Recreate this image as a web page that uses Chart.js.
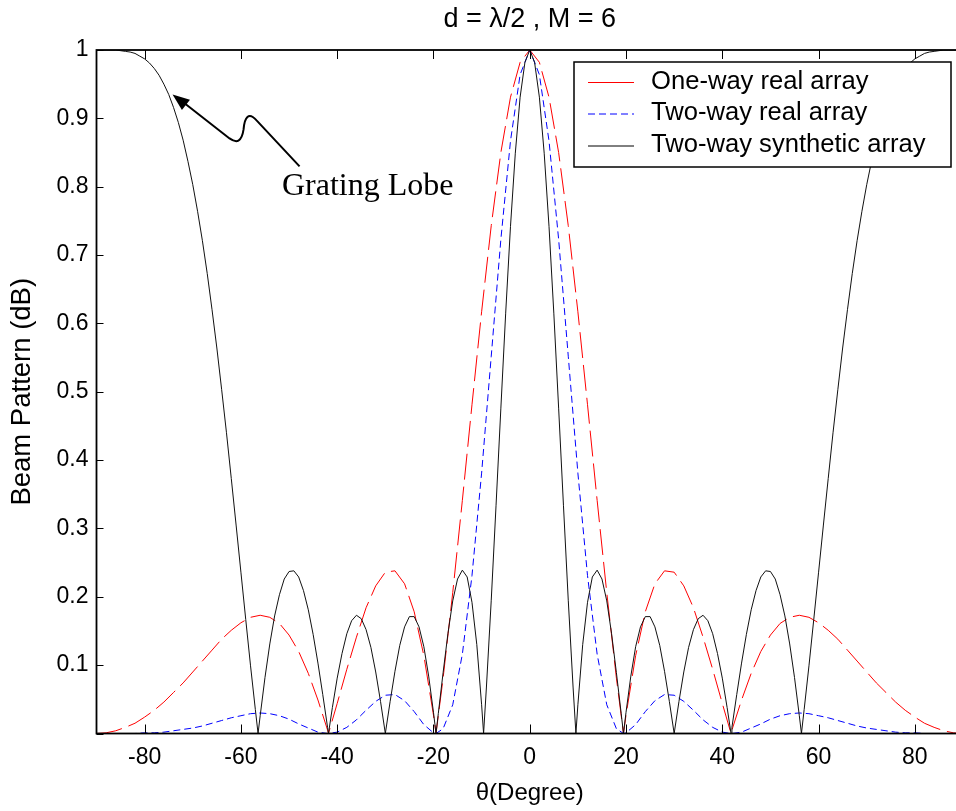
<!DOCTYPE html>
<html>
<head>
<meta charset="utf-8">
<script src="https://cdn.jsdelivr.net/npm/chart.js@4.4.0/dist/chart.umd.min.js"></script>
<style>
  html, body { margin: 0; padding: 0; background: #fff; overflow: hidden; }
</style>
</head>
<body>
<canvas id="beamChart" width="963" height="811"></canvas>
<script>
// angles (deg) for the synthetic array curve, nulls included
const blackTheta = [
  -90, -89, -88, -87, -86, -85, -84, -83, -82, -81, -80, -79, -78, -77, -76, -75, -74, -73, -72, -71,
  -70, -69, -68, -67, -66, -65, -64, -63, -62, -61, -60, -59, -58, -57, -56.44,
  -56, -55, -54, -53, -52, -51, -50, -49, -48, -47, -46, -45, -44, -43, -42, -41.81,
  -41, -40, -39, -38, -37, -36, -35, -34, -33, -32, -31, -30, -29, -28, -27, -26, -25, -24, -23, -22, -21, -20, -19.47,
  -19, -18, -17, -16, -15, -14, -13, -12, -11, -10, -9.59,
  -9, -8, -7, -6, -5, -4, -3, -2, -1, 0,
  1, 2, 3, 4, 5, 6, 7, 8, 9, 9.59,
  10, 11, 12, 13, 14, 15, 16, 17, 18, 19, 19.47,
  20, 21, 22, 23, 24, 25, 26, 27, 28, 29, 30, 31, 32, 33, 34, 35, 36, 37, 38, 39, 40, 41, 41.81,
  42, 43, 44, 45, 46, 47, 48, 49, 50, 51, 52, 53, 54, 55, 56, 56.44,
  57, 58, 59, 60, 61, 62, 63, 64, 65, 66, 67, 68, 69, 70, 71, 72, 73, 74, 75, 76, 77, 78, 79, 80,
  81, 82, 83, 84, 85, 86, 87, 88, 89, 90
];
const syntheticTwoWay = [
  1, 1, 1, 1, 1, 0.999, 0.998, 0.997, 0.995, 0.991, 0.987, 0.981, 0.973, 0.963, 0.950, 0.935, 0.916, 0.894, 0.868, 0.837,
  0.803, 0.764, 0.721, 0.673, 0.620, 0.564, 0.503, 0.440, 0.373, 0.305, 0.236, 0.167, 0.099, 0.035, 0,
  0.026, 0.082, 0.131, 0.172, 0.203, 0.226, 0.237, 0.238, 0.229, 0.209, 0.181, 0.145, 0.103, 0.057, 0.009, 0,
  0.038, 0.081, 0.117, 0.146, 0.165, 0.173, 0.168, 0.152, 0.126, 0.090, 0.047, 0, 0.047, 0.091, 0.129, 0.156, 0.171, 0.171, 0.156, 0.127, 0.084, 0.031, 0,
  0.029, 0.089, 0.146, 0.194, 0.226, 0.239, 0.229, 0.192, 0.130, 0.042, 0,
  0.068, 0.195, 0.334, 0.476, 0.615, 0.742, 0.849, 0.931, 0.982, 1,
  0.982, 0.931, 0.849, 0.742, 0.615, 0.476, 0.334, 0.195, 0.068, 0,
  0.042, 0.130, 0.192, 0.229, 0.239, 0.226, 0.194, 0.146, 0.089, 0.029, 0,
  0.031, 0.084, 0.127, 0.156, 0.171, 0.171, 0.156, 0.129, 0.091, 0.047, 0, 0.047, 0.090, 0.126, 0.152, 0.168, 0.173, 0.165, 0.146, 0.117, 0.081, 0.038, 0,
  0.009, 0.057, 0.103, 0.145, 0.181, 0.209, 0.229, 0.238, 0.237, 0.226, 0.203, 0.172, 0.131, 0.082, 0.026, 0,
  0.035, 0.099, 0.167, 0.236, 0.305, 0.373, 0.440, 0.503, 0.564, 0.620, 0.673, 0.721, 0.764, 0.803, 0.837, 0.868, 0.894, 0.916, 0.935, 0.950, 0.963, 0.973, 0.981, 0.987,
  0.991, 0.995, 0.997, 0.998, 0.999, 1, 1, 1, 1, 1
];

// angles (deg) for the real array curves
const realTheta = [
  -90, -88, -86, -84, -82, -80, -78, -76, -74, -72, -70, -68, -66, -64, -62, -60, -58, -56, -54, -52, -50, -48, -46, -44, -42, -41.81,
  -40, -38, -36, -34, -32, -30, -28, -26, -24, -22, -20, -19.47,
  -18, -16, -14, -12, -10, -8, -6, -4, -2, 0,
  2, 4, 6, 8, 10, 12, 14, 16, 18, 19.47,
  20, 22, 24, 26, 28, 30, 32, 34, 36, 38, 40, 41.81,
  42, 44, 46, 48, 50, 52, 54, 56, 58, 60, 62, 64, 66, 68, 70, 72, 74, 76, 78, 80, 82, 84, 86, 88, 90
];
const realOneWay = [
  0, 0.001, 0.004, 0.009, 0.015, 0.024, 0.034, 0.046, 0.060, 0.074, 0.090, 0.106, 0.122, 0.138, 0.151, 0.162, 0.170, 0.173, 0.170, 0.161, 0.144, 0.120, 0.088, 0.049, 0.005, 0,
  0.044, 0.094, 0.141, 0.184, 0.216, 0.236, 0.238, 0.219, 0.178, 0.114, 0.027, 0,
  0.081, 0.206, 0.341, 0.481, 0.617, 0.743, 0.850, 0.931, 0.982, 1,
  0.982, 0.931, 0.850, 0.743, 0.617, 0.481, 0.341, 0.206, 0.081, 0,
  0.027, 0.114, 0.178, 0.219, 0.238, 0.236, 0.216, 0.184, 0.141, 0.094, 0.044, 0,
  0.005, 0.049, 0.088, 0.120, 0.144, 0.161, 0.170, 0.173, 0.170, 0.162, 0.151, 0.138, 0.122, 0.106, 0.090, 0.074, 0.060, 0.046, 0.034, 0.024, 0.015, 0.009, 0.004, 0.001, 0
];
const realTwoWay = [
  0, 0, 0, 0, 0, 0.001, 0.001, 0.002, 0.004, 0.006, 0.008, 0.011, 0.015, 0.019, 0.023, 0.026, 0.029, 0.030, 0.029, 0.026, 0.021, 0.014, 0.008, 0.002, 0, 0,
  0.002, 0.009, 0.020, 0.034, 0.047, 0.056, 0.057, 0.048, 0.032, 0.013, 0.001, 0,
  0.007, 0.042, 0.116, 0.231, 0.381, 0.552, 0.723, 0.867, 0.964, 1,
  0.964, 0.867, 0.723, 0.552, 0.381, 0.231, 0.116, 0.042, 0.007, 0,
  0.001, 0.013, 0.032, 0.048, 0.057, 0.056, 0.047, 0.034, 0.020, 0.009, 0.002, 0,
  0, 0.002, 0.008, 0.014, 0.021, 0.026, 0.029, 0.030, 0.029, 0.026, 0.023, 0.019, 0.015, 0.011, 0.008, 0.006, 0.004, 0.002, 0.001, 0.001, 0, 0, 0, 0, 0
];

const xTicks = [-80, -60, -40, -20, 0, 20, 40, 60, 80];
const yTicks = [0, 0.1, 0.2, 0.3, 0.4, 0.5, 0.6, 0.7, 0.8, 0.9, 1];
const seriesNames = ['One-way real array', 'Two-way real array', 'Two-way synthetic array'];

const SANS = "'Liberation Sans', Arial, sans-serif";
const SERIF = "'Liberation Serif', 'Times New Roman', serif";

const toPoints = (xs, ys) => xs.map((x, i) => ({ x: x, y: ys[i] }));

// box, inward ticks, title, legend and the arrow note
const decorations = {
  id: 'decorations',
  afterDatasetsDraw(chart) {
    const { ctx, chartArea: a, scales: { x, y } } = chart;
    ctx.save();
    ctx.strokeStyle = '#000';
    ctx.lineWidth = 1;
    ctx.beginPath();
    xTicks.forEach(v => {
      const px = Math.round(x.getPixelForValue(v)) + 0.5;
      ctx.moveTo(px, a.bottom); ctx.lineTo(px, a.bottom - 9);
      ctx.moveTo(px, a.top); ctx.lineTo(px, a.top + 9);
    });
    yTicks.forEach(v => {
      const py = Math.round(y.getPixelForValue(v)) + 0.5;
      ctx.moveTo(a.left, py); ctx.lineTo(a.left + 7, py);
      ctx.moveTo(a.right, py); ctx.lineTo(a.right - 7, py);
    });
    ctx.stroke();
    ctx.lineWidth = 1.8;
    ctx.strokeRect(a.left, a.top, a.right - a.left, a.bottom - a.top);
    ctx.restore();
  },
  afterDraw(chart) {
    const { ctx, chartArea: a, scales: { x, y } } = chart;
    ctx.save();

    // title
    ctx.fillStyle = '#000';
    ctx.font = '27px ' + SANS;
    ctx.textAlign = 'center';
    ctx.textBaseline = 'middle';
    ctx.fillText('d = λ/2 , M = 6', (a.left + a.right) / 2, 20);

    // legend
    const lx = 574, ly = 62, lw = 377, lh = 105;
    ctx.fillStyle = '#fff';
    ctx.fillRect(lx, ly, lw, lh);
    ctx.strokeStyle = '#000';
    ctx.lineWidth = 1.5;
    ctx.strokeRect(lx, ly, lw, lh);
    const rows = [81.5, 113, 145];
    const styles = [
      { color: '#ff0000', dash: [] },
      { color: '#0000ff', dash: [7, 4] },
      { color: '#000000', dash: [] }
    ];
    ctx.font = '25.6px ' + SANS;
    ctx.textAlign = 'left';
    rows.forEach((ry, i) => {
      ctx.beginPath();
      ctx.setLineDash(styles[i].dash);
      ctx.strokeStyle = styles[i].color;
      ctx.lineWidth = 1;
      ctx.moveTo(588, ry + 1);
      ctx.lineTo(634, ry + 1);
      ctx.stroke();
      ctx.fillStyle = '#000';
      ctx.fillText(seriesNames[i], 651, ry);
    });
    ctx.setLineDash([]);

    // "Grating Lobe" note with wavy arrow
    const tx = x.getPixelForValue(-74.2), ty = y.getPixelForValue(0.935);
    ctx.strokeStyle = '#000';
    ctx.fillStyle = '#000';
    ctx.lineWidth = 2;
    ctx.beginPath();
    ctx.moveTo(tx + 127, ty + 72);
    ctx.lineTo(tx + 84, ty + 26);
    ctx.bezierCurveTo(tx + 76, ty + 17, tx + 72, ty + 23, tx + 71, ty + 35);
    ctx.bezierCurveTo(tx + 69, ty + 48, tx + 64, ty + 49, tx + 57, ty + 44);
    ctx.lineTo(tx + 11, ty + 8);
    ctx.stroke();
    const ang = Math.atan2(-36, -46);
    const hl = 17, hw = 6.5;
    const bx = tx - Math.cos(ang) * hl, by = ty - Math.sin(ang) * hl;
    ctx.beginPath();
    ctx.moveTo(tx, ty);
    ctx.lineTo(bx + Math.sin(ang) * hw, by - Math.cos(ang) * hw);
    ctx.lineTo(bx - Math.sin(ang) * hw, by + Math.cos(ang) * hw);
    ctx.closePath();
    ctx.fill();
    ctx.font = '32px ' + SERIF;
    ctx.textAlign = 'left';
    ctx.textBaseline = 'alphabetic';
    ctx.fillText('Grating Lobe', 282, 195);
    ctx.restore();
  }
};

new Chart(document.getElementById('beamChart'), {
  type: 'line',
  data: {
    datasets: [
      {
        label: seriesNames[0],
        data: toPoints(realTheta, realOneWay),
        borderColor: '#ff0000',
        borderWidth: 1,
        borderDash: [26, 7],
        pointRadius: 0,
        tension: 0,
        order: 2
      },
      {
        label: seriesNames[1],
        data: toPoints(realTheta, realTwoWay),
        borderColor: '#0000ff',
        borderWidth: 1,
        borderDash: [7, 4],
        pointRadius: 0,
        tension: 0,
        order: 1
      },
      {
        label: seriesNames[2],
        data: toPoints(blackTheta, syntheticTwoWay),
        borderColor: '#111111',
        borderWidth: 1,
        pointRadius: 0,
        tension: 0,
        order: 0
      }
    ]
  },
  options: {
    responsive: false,
    animation: false,
    events: [],
    layout: { padding: { top: 50, left: 0, right: 0, bottom: 0 } },
    plugins: {
      legend: { display: false },
      tooltip: { enabled: false },
      title: { display: false }
    },
    scales: {
      x: {
        type: 'linear',
        min: -90,
        max: 90,
        grid: { display: false, drawTicks: false },
        border: { display: false },
        afterBuildTicks: s => { s.ticks = xTicks.map(v => ({ value: v })); },
        afterFit: s => { s.height = 77.5; },
        ticks: {
          color: '#000',
          font: { family: SANS, size: 23 },
          padding: 10,
          maxRotation: 0,
          autoSkip: false
        },
        title: {
          display: true,
          text: 'θ(Degree)',
          color: '#000',
          font: { family: SANS, size: 24 },
          padding: { top: 0, bottom: 3 }
        }
      },
      y: {
        min: 0,
        max: 1,
        grid: { display: false, drawTicks: false },
        border: { display: false },
        afterBuildTicks: s => { s.ticks = yTicks.map(v => ({ value: v })); },
        afterFit: s => { s.width = 96.5; },
        ticks: {
          color: '#000',
          font: { family: SANS, size: 23 },
          padding: 8,
          autoSkip: false,
          callback: v => (v === 0 ? '' : String(Math.round(v * 10) / 10))
        },
        title: {
          display: true,
          text: 'Beam Pattern (dB)',
          color: '#000',
          font: { family: SANS, size: 27.5 },
          padding: { top: 6, bottom: 0 }
        }
      }
    }
  },
  plugins: [decorations]
});
</script>
</body>
</html>
